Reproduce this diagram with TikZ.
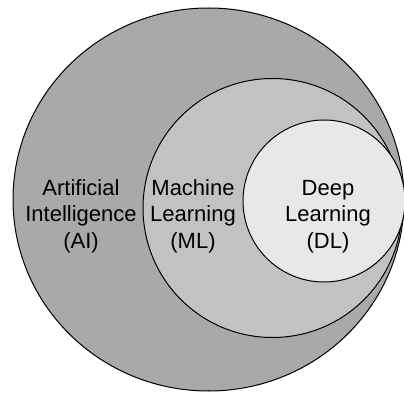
\documentclass[tikz,border=0pt]{standalone}
\usepackage{fontspec}
\setmainfont{Liberation Sans}
\usepackage{tikz}
\usetikzlibrary{calc}
\definecolor{aicol}{HTML}{A9A9A9}
\definecolor{mlcol}{HTML}{C2C2C2}
\definecolor{dlcol}{HTML}{E8E8E8}
\tikzset{ring/.style={draw=black, line width=1pt}}
\tikzset{areatext/.style={align=center, anchor=base, inner sep=0pt, font=\fontsize{22}{26.5}\selectfont}}

\begin{document}
\begin{tikzpicture}[x=1pt,y=1pt]
                    \useasboundingbox (0,0) rectangle (404,394);

                    \coordinate (cAI) at (208.5,194.5);
                    \coordinate (cML) at (272.5,186);
                    \coordinate (cDL) at (324,193);

                    \draw[ring, fill=aicol] (cAI) ellipse [x radius=195.5, y radius=191.5];
                    \draw[ring, fill=mlcol] (cML) circle [radius=129.5];
                    \draw[ring, fill=dlcol] (cDL) circle [radius=81];

                    \node[areatext] (AI) at (81,146) {Artificial\\Intelligence\\(AI)};
                    \node[areatext] (ML) at (193,146) {Machine\\Learning\\(ML)};
                    \node[areatext] (DL) at (328,146) {Deep\\Learning\\(DL)};
                \end{tikzpicture}
\end{document}
